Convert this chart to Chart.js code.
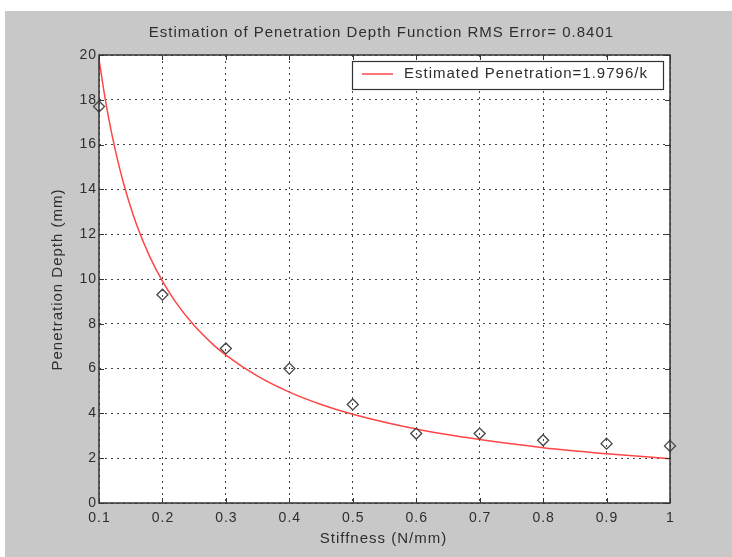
<!DOCTYPE html>
<html>
<head>
<meta charset="utf-8">
<script src="https://cdn.jsdelivr.net/npm/chart.js@4.4.1/dist/chart.umd.min.js"></script>
<style>
  html, body { margin:0; padding:0; background:#fff; }
  #wrap { position:relative; width:732px; height:557px; }
</style>
</head>
<body>
<div id="wrap"><canvas id="penChart" width="732" height="557"></canvas></div>
<script>
// measured points (diamonds)
const stiffness = [0.1, 0.2, 0.3, 0.4, 0.5, 0.6, 0.7, 0.8, 0.9, 1.0];
const measuredDepth = [17.7, 9.3, 6.9, 6.0, 4.4, 3.1, 3.1, 2.8, 2.65, 2.55];

// fitted curve
const curveK = [0.1, 0.11, 0.12, 0.13, 0.14, 0.15, 0.16, 0.18, 0.2, 0.22, 0.25, 0.28, 0.3, 0.35, 0.4, 0.45, 0.5, 0.6, 0.7, 0.8, 0.9, 1.0];
const curveDepth = [19.8, 18.0, 16.5, 15.23, 14.14, 13.2, 12.37, 11.0, 9.9, 9.0, 7.92, 7.07, 6.6, 5.66, 4.95, 4.4, 3.96, 3.3, 2.83, 2.47, 2.2, 1.98];

const xTicks = [0.1, 0.2, 0.3, 0.4, 0.5, 0.6, 0.7, 0.8, 0.9, 1];
const xTickLabels = ["0.1", "0.2", "0.3", "0.4", "0.5", "0.6", "0.7", "0.8", "0.9", "1"];
const yTicks = [0, 2, 4, 6, 8, 10, 12, 14, 16, 18, 20];

const chartTitle = "Estimation of Penetration Depth Function RMS Error= 0.8401";
const xTitle = "Stiffness (N/mm)";
const yTitle = "Penetration Depth (mm)";
const curveLabel = "Estimated Penetration=1.9796/k";

const FONT = '"Liberation Sans", Arial, sans-serif';
const INK = "#2e2e2e";

// spaced-out text like the old matlab export
function spacedText(c, txt, x, y, align, sp){
  c.letterSpacing = sp + "px";
  const w = c.measureText(txt).width - sp;
  let sx = x;
  if(align === "center") sx = x - w / 2;
  else if(align === "right") sx = x - w;
  c.textAlign = "left";
  c.fillText(txt, sx, y);
  c.letterSpacing = "0px";
}

// background, box, inward ticks, labels, legend
const matlabLook = {
  id: "matlabLook",
  beforeDraw(chart){
    const c = chart.ctx;
    c.save();
    c.fillStyle = "#fff";
    c.fillRect(0, 0, chart.width, chart.height);
    c.fillStyle = "#c8c8c8";
    c.fillRect(5, 11, chart.width - 5, chart.height - 11);
    const a = chart.chartArea;
    c.fillStyle = "#fff";
    c.fillRect(a.left, a.top, a.right - a.left, a.bottom - a.top);
    c.restore();
  },
  afterDatasetsDraw(chart){
    const c = chart.ctx, a = chart.chartArea;
    const sx = chart.scales.x, sy = chart.scales.y;
    c.save();
    c.strokeStyle = "#333";
    c.lineWidth = 1;
    c.setLineDash([]);
    c.beginPath();
    xTicks.forEach(v => {
      const px = Math.round(sx.getPixelForValue(v)) + 0.5;
      c.moveTo(px, a.bottom); c.lineTo(px, a.bottom - 5);
      c.moveTo(px, a.top); c.lineTo(px, a.top + 5);
    });
    yTicks.forEach(v => {
      const py = Math.round(sy.getPixelForValue(v)) + 0.5;
      c.moveTo(a.left, py); c.lineTo(a.left + 5, py);
      c.moveTo(a.right, py); c.lineTo(a.right - 5, py);
    });
    c.stroke();
    c.lineWidth = 1.5;
    c.strokeRect(a.left, a.top, a.right - a.left, a.bottom - a.top);

    // tick labels
    c.fillStyle = INK;
    c.font = "14px " + FONT;
    c.textBaseline = "middle";
    xTicks.forEach((v, i) => spacedText(c, xTickLabels[i], sx.getPixelForValue(v), 518, "center", 1));
    yTicks.forEach(v => spacedText(c, String(v), 96, sy.getPixelForValue(v), "right", 1));

    // legend box
    const lx = 352, ly = 61, lw = 311, lh = 28;
    c.fillStyle = "#fff";
    c.fillRect(lx, ly, lw, lh);
    c.lineWidth = 1.2;
    c.strokeStyle = "#333";
    c.strokeRect(lx + 0.5, ly + 0.5, lw, lh);
    c.strokeStyle = "rgb(255,70,70)";
    c.lineWidth = 1.5;
    c.beginPath();
    c.moveTo(362, 74); c.lineTo(393, 74);
    c.stroke();
    c.fillStyle = INK;
    c.font = "15px " + FONT;
    spacedText(c, curveLabel, 404, 74, "left", 1);

    // titles
    spacedText(c, chartTitle, 381, 33, "center", 1);
    spacedText(c, xTitle, 383, 539, "center", 1);
    c.translate(58, 280);
    c.rotate(-Math.PI / 2);
    spacedText(c, yTitle, 0, 0, "center", 1);
    c.restore();
  }
};

const ctx = document.getElementById("penChart").getContext("2d");
new Chart(ctx, {
  type: "scatter",
  data: {
    datasets: [
      {
        label: curveLabel,
        type: "line",
        data: curveK.map((k, i) => ({x: k, y: curveDepth[i]})),
        borderColor: "rgb(255,70,70)",
        borderWidth: 1.5,
        pointRadius: 0,
        cubicInterpolationMode: "monotone",
        fill: false,
        order: 2
      },
      {
        label: "measured",
        data: stiffness.map((k, i) => ({x: k, y: measuredDepth[i]})),
        pointStyle: "rectRot",
        pointRadius: 5.5,
        pointBorderColor: "#444",
        pointBackgroundColor: "rgba(255,255,255,0)",
        pointBorderWidth: 1.3,
        order: 1
      }
    ]
  },
  options: {
    responsive: false,
    animation: false,
    clip: false,
    layout: { padding: { left: 0, top: 55, right: 62, bottom: 0 } },
    plugins: { legend: { display: false }, title: { display: false }, tooltip: { enabled: false } },
    scales: {
      x: {
        type: "linear", min: 0.1, max: 1,
        afterBuildTicks: s => { s.ticks = xTicks.map(v => ({value: v})); },
        afterFit: s => { s.height = 54; },
        border: { display: false, dash: [2, 4] },
        grid: { color: "#444", lineWidth: 1, drawTicks: false },
        ticks: { display: false }
      },
      y: {
        type: "linear", min: 0, max: 20,
        afterBuildTicks: s => { s.ticks = yTicks.map(v => ({value: v})); },
        afterFit: s => { s.width = 99; },
        border: { display: false, dash: [2, 4] },
        grid: { color: "#444", lineWidth: 1, drawTicks: false },
        ticks: { display: false }
      }
    }
  },
  plugins: [matlabLook]
});
</script>
</body>
</html>
